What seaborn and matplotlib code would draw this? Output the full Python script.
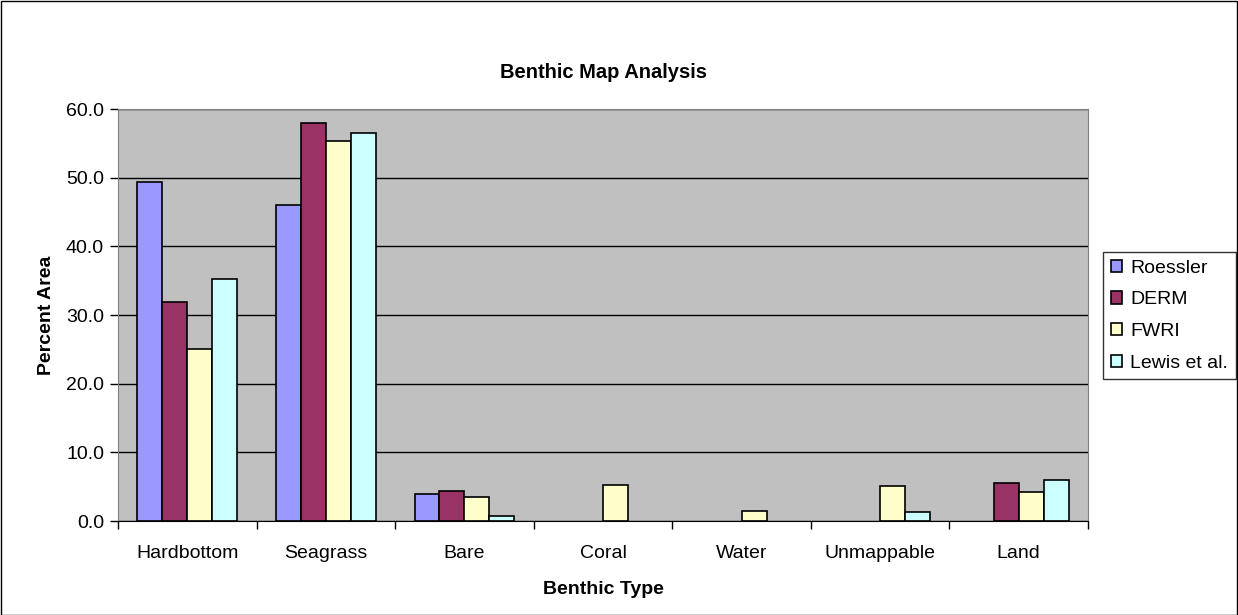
import numpy as np
import pandas as pd
import matplotlib
matplotlib.use("Agg")
import matplotlib.pyplot as plt
from matplotlib.patches import Rectangle
from matplotlib.ticker import FixedLocator, FormatStrFormatter
import seaborn as sns

types = ["Hardbottom", "Seagrass", "Bare", "Coral", "Water", "Unmappable", "Land"]
sources = ["Roessler", "DERM", "FWRI", "Lewis et al."]
# NaN = no bar drawn
roessler = [49.4, 46.0, 4.0, np.nan, np.nan, np.nan, np.nan]
derm = [31.9, 58.0, 4.4, np.nan, np.nan, np.nan, 5.6]
fwri = [25.0, 55.4, 3.5, 5.3, 1.4, 5.1, 4.2]
lewis = [35.3, 56.5, 0.8, np.nan, np.nan, 1.3, 6.0]
colors = ["#9999FF", "#993366", "#FFFFCC", "#CCFFFF"]

rows = []
for src, vals in zip(sources, [roessler, derm, fwri, lewis]):
    for t, v in zip(types, vals):
        rows.append({"type": t, "source": src, "pct": v})
df = pd.DataFrame(rows)

sns.set_style("white")
plt.rcParams["font.family"] = ["Liberation Sans", "DejaVu Sans"]
plt.rcParams["text.color"] = "black"
plt.rcParams["axes.labelcolor"] = "black"
plt.rcParams["xtick.color"] = "black"
plt.rcParams["ytick.color"] = "black"

fig = plt.figure(figsize=(12.38, 6.15), dpi=100)
ax = fig.add_axes([118 / 1238, 1 - 521 / 615, 970 / 1238, 412 / 615])
ax.set_facecolor("#C0C0C0")

sns.barplot(data=df, x="type", y="pct", hue="source", hue_order=sources, order=types,
            palette=colors, saturation=1, width=0.72, edgecolor="black", linewidth=1.2,
            ax=ax, legend=True)

ax.set_ylim(0, 60)
ax.set_xlim(-0.5, len(types) - 0.5)
ax.set_yticks(range(0, 61, 10))
ax.yaxis.set_major_formatter(FormatStrFormatter("%.1f"))
ax.yaxis.grid(True, color="black", linewidth=1)
ax.set_axisbelow(True)

# category boundary ticks, labels at centres
ax.xaxis.set_major_locator(FixedLocator([i - 0.5 for i in range(len(types) + 1)]))
ax.xaxis.set_major_formatter(plt.NullFormatter())
ax.xaxis.set_minor_locator(FixedLocator(range(len(types))))
ax.set_xticklabels(types, minor=True)
ax.tick_params(axis="x", which="major", length=6, width=1, color="black", direction="out", bottom=True)
ax.tick_params(axis="x", which="minor", length=0, pad=17, labelsize=14)
ax.tick_params(axis="y", length=6, width=1, color="black", direction="out", left=True, labelsize=14, pad=4)

for side in ["top", "right", "left"]:
    ax.spines[side].set_color("#808080")
ax.spines["bottom"].set_color("black")

ax.set_xlabel("Benthic Type", fontsize=14, fontweight="bold", labelpad=14)
ax.set_ylabel("Percent Area", fontsize=14, fontweight="bold", labelpad=8)
fig.text(603 / 1238, 1 - 73 / 615, "Benthic Map Analysis", ha="center", va="center",
         fontsize=14.5, fontweight="bold")

handles, labels = ax.get_legend_handles_labels()
ax.get_legend().remove()
leg = fig.legend(handles, labels, loc="upper left", bbox_to_anchor=(1103 / 1238, 1 - 252 / 615),
                 frameon=True, fancybox=False, edgecolor="black", fontsize=14,
                 handlelength=0.6, handleheight=0.6, handletextpad=0.4,
                 labelspacing=0.75, borderpad=0.4, borderaxespad=0)
leg.get_frame().set_linewidth(1)

fig.patches.append(Rectangle((0.5 / 1238, 0.5 / 615), 1 - 1.5 / 1238, 1 - 1.5 / 615,
                             transform=fig.transFigure, fill=False, edgecolor="black", linewidth=1))

fig.savefig("out.png", dpi=100)
